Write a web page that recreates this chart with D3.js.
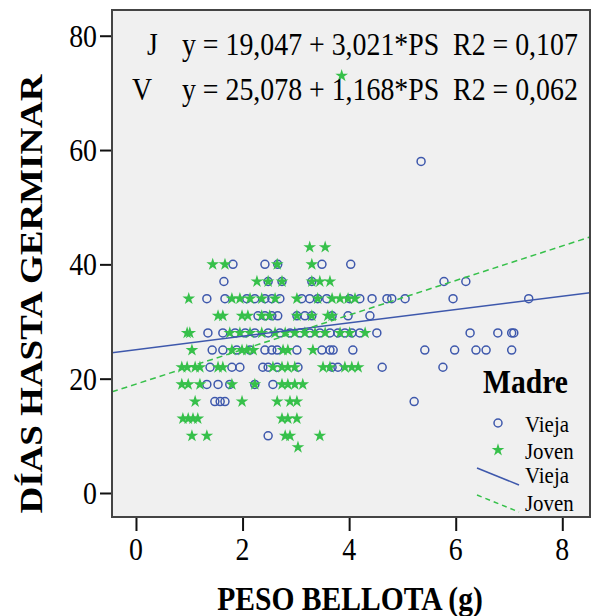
<!DOCTYPE html>
<html>
<head>
<meta charset="utf-8">
<script src="https://cdn.jsdelivr.net/npm/d3@7"></script>
<style>
  body { margin: 0; background: #fff; }
  svg text { font-family: "Liberation Serif", "DejaVu Serif", serif; fill: #000; }
</style>
</head>
<body>
<svg id="chart" width="595" height="616"></svg>
<script>
// axis ticks
var pesoTicks = [0, 2, 4, 6, 8];
var diasTicks = [0, 20, 40, 60, 80];

// groups (Madre) and their fit lines
var groups = ["Vieja", "Joven"];
var groupCodes = ["V", "J"];
var intercepts = [25.078, 19.047];
var slopes = [1.168, 3.021];
var r2 = [0.062, 0.107];

// Madre vieja: [peso bellota (g), dias hasta germinar]
var vieja = [
  [5.35, 58],
  [1.82, 40], [2.42, 40], [2.66, 40], [3.49, 40], [4.03, 40],
  [1.65, 37], [2.48, 37], [2.74, 37], [3.30, 37], [5.78, 37], [6.19, 37],
  [1.33, 34], [1.67, 34], [2.08, 34], [2.23, 34], [2.42, 34], [2.55, 34], [2.70, 34],
  [3.11, 34], [3.26, 34], [3.41, 34], [3.58, 34], [4.01, 34], [4.20, 34], [4.43, 34],
  [4.71, 34], [4.80, 34], [5.05, 34], [5.95, 34], [7.37, 34],
  [2.29, 31], [2.42, 31], [2.55, 31], [2.66, 31], [3.02, 31], [3.17, 31], [3.30, 31],
  [3.68, 31], [3.98, 31], [4.39, 31],
  [1.35, 28], [1.63, 28], [1.86, 28], [2.05, 28], [2.23, 28], [2.48, 28], [2.70, 28],
  [2.89, 28], [3.08, 28], [3.26, 28], [3.45, 28], [3.64, 28], [3.79, 28], [3.92, 28],
  [4.05, 28], [4.20, 28], [4.52, 28], [6.27, 28], [6.79, 28], [7.05, 28], [7.09, 28],
  [1.43, 25], [1.63, 25], [1.89, 25], [2.14, 25], [2.42, 25], [2.55, 25], [2.65, 25],
  [3.02, 25], [3.49, 25], [3.64, 25], [3.70, 25], [4.07, 25], [5.42, 25], [5.98, 25],
  [6.38, 25], [6.57, 25], [7.05, 25],
  [1.39, 22], [1.80, 22], [1.95, 22], [2.38, 22], [2.48, 22], [2.65, 22], [3.04, 22],
  [3.68, 22], [3.79, 22], [4.62, 22], [5.76, 22],
  [1.33, 19], [1.54, 19], [1.76, 19], [2.23, 19], [2.57, 19],
  [1.48, 16], [1.58, 16], [1.67, 16], [5.22, 16],
  [2.48, 10]
];

// Madre joven
var joven = [
  [3.86, 73],
  [3.26, 43], [3.55, 43],
  [1.44, 40], [1.67, 40], [2.65, 40], [3.30, 40],
  [2.27, 37], [2.48, 37], [2.74, 37], [3.30, 37], [3.45, 37], [3.64, 37],
  [0.99, 34], [1.80, 34], [1.95, 34], [2.14, 34], [2.36, 34], [2.61, 34], [3.02, 34],
  [3.41, 34], [3.68, 34], [3.83, 34], [3.98, 34], [4.11, 34],
  [1.54, 31], [1.63, 31], [1.99, 31], [2.10, 31], [2.36, 31], [2.51, 31], [3.02, 31],
  [3.30, 31], [3.60, 31], [3.68, 31],
  [0.96, 28], [1.01, 28], [1.76, 28], [1.95, 28], [2.14, 28], [2.36, 28], [2.61, 28],
  [2.80, 28], [2.98, 28], [3.17, 28], [3.36, 28], [3.55, 28], [3.83, 28], [4.01, 28],
  [4.30, 28],
  [1.05, 25], [1.80, 25], [1.99, 25], [2.08, 25], [2.20, 25], [2.76, 25], [2.85, 25],
  [3.32, 25],
  [0.86, 22], [0.96, 22], [1.11, 22], [1.20, 22], [1.54, 22], [1.63, 22], [2.57, 22],
  [2.74, 22], [2.85, 22], [2.98, 22], [3.51, 22], [3.64, 22], [3.92, 22], [4.05, 22],
  [4.17, 22],
  [0.86, 19], [0.98, 19], [1.20, 19], [1.80, 19], [2.23, 19], [2.74, 19], [2.85, 19],
  [2.98, 19], [3.13, 19],
  [1.11, 16], [1.99, 16], [2.65, 16], [2.89, 16], [3.02, 16],
  [0.88, 13], [0.98, 13], [1.07, 13], [1.16, 13], [2.74, 13], [2.85, 13], [3.02, 13],
  [1.05, 10], [1.33, 10], [2.80, 10], [2.89, 10], [3.45, 10],
  [3.04, 8]
];

var blue = "#3e58ac", green = "#36c04a";
var squish = 0.87; // text in the picture is horizontally narrow

var svg = d3.select("#chart");
var plotLeft = 112, plotRight = 590, plotTop = 10, plotBottom = 517;

var x = d3.scaleLinear().domain([-0.45, 8.52]).range([plotLeft, plotRight]);
var y = d3.scaleLinear().domain([-4.2, 84.5]).range([plotBottom, plotTop]);

function label(px, py, txt, size, anchor, bold, rot) {
  var g = svg.append("g")
    .attr("transform", "translate(" + px + "," + py + ") scale(" + squish + ",1)" + (rot ? " rotate(" + rot + ")" : ""));
  return g.append("text")
    .attr("text-anchor", anchor || "start")
    .style("font-size", size + "px")
    .style("font-weight", bold ? "bold" : "normal")
    .text(txt);
}

// panel
svg.append("rect")
  .attr("x", plotLeft).attr("y", plotTop)
  .attr("width", plotRight - plotLeft).attr("height", plotBottom - plotTop)
  .attr("fill", "#f0f0f0");

svg.append("defs").append("clipPath").attr("id", "clip")
  .append("rect").attr("x", plotLeft).attr("y", plotTop)
  .attr("width", plotRight - plotLeft).attr("height", plotBottom - plotTop);

// axes
svg.append("g")
  .attr("transform", "translate(0," + plotBottom + ")")
  .call(d3.axisBottom(x).tickValues(pesoTicks).tickSize(14).tickFormat(""));
svg.append("g")
  .attr("transform", "translate(" + plotLeft + ",0)")
  .call(d3.axisLeft(y).tickValues(diasTicks).tickSize(12).tickFormat(""));
svg.selectAll(".domain").remove();
svg.selectAll(".tick line").attr("stroke", "#111").attr("stroke-width", 2);

pesoTicks.forEach(function (t) { label(x(t), 560, t, 32, "middle"); });
diasTicks.forEach(function (t) { label(97, y(t) + 11, t, 32, "end"); });

// points
var plot = svg.append("g").attr("clip-path", "url(#clip)");

plot.append("g").selectAll("circle")
  .data(vieja)
  .enter()
  .append("circle")
  .attr("cx", function (d) { return x(d[0]); })
  .attr("cy", function (d) { return y(d[1]); })
  .attr("r", 4)
  .attr("fill", "none")
  .attr("stroke", blue)
  .attr("stroke-width", 1.5);

var star = d3.symbol().type(d3.symbolStar).size(50);
plot.append("g").selectAll("path")
  .data(joven)
  .enter()
  .append("path")
  .attr("d", star)
  .attr("transform", function (d) { return "translate(" + x(d[0]) + "," + y(d[1]) + ")"; })
  .attr("fill", green);

// fit lines
var xs = x.domain();
groups.forEach(function (g, i) {
  plot.append("line")
    .attr("x1", x(xs[0])).attr("y1", y(intercepts[i] + slopes[i] * xs[0]))
    .attr("x2", x(xs[1])).attr("y2", y(intercepts[i] + slopes[i] * xs[1]))
    .attr("stroke", i === 0 ? blue : green)
    .attr("stroke-width", 1.5)
    .attr("stroke-dasharray", i === 0 ? null : "6,4");
});

// frame
svg.append("rect")
  .attr("x", plotLeft).attr("y", plotTop)
  .attr("width", plotRight - plotLeft).attr("height", plotBottom - plotTop)
  .attr("fill", "none").attr("stroke", "#444").attr("stroke-width", 2);

// equations
function num(v) { return v.toFixed(3).replace(".", ","); }
var eqRows = [[1, 147, 55], [0, 132, 100]];
eqRows.forEach(function (r) {
  var i = r[0];
  label(r[1], r[2], groupCodes[i], 32, "start");
  label(182, r[2], "y = " + num(intercepts[i]) + " + " + num(slopes[i]) + "*PS  R2 = " + num(r2[i]), 32, "start")
    .attr("xml:space", "preserve");
});

// legend
label(483, 393, "Madre", 34, "start", true);
var legY = [423, 450];
svg.append("circle").attr("cx", 498).attr("cy", legY[0]).attr("r", 4)
  .attr("fill", "none").attr("stroke", blue).attr("stroke-width", 1.5);
svg.append("path").attr("d", star).attr("transform", "translate(498," + legY[1] + ")").attr("fill", green);
label(525, legY[0] + 9, groups[0], 24, "start");
label(525, legY[1] + 9, groups[1], 24, "start");
svg.append("line").attr("x1", 477).attr("y1", 468).attr("x2", 519).attr("y2", 485)
  .attr("stroke", blue).attr("stroke-width", 1.5);
svg.append("line").attr("x1", 477).attr("y1", 495).attr("x2", 519).attr("y2", 512)
  .attr("stroke", green).attr("stroke-width", 1.5).attr("stroke-dasharray", "5,4");
label(525, 483, groups[0], 24, "start");
label(525, 511, groups[1], 24, "start");

// axis titles
label(350, 610, "PESO BELLOTA (g)", 34, "middle", true);
label(42, 294, "DÍAS HASTA GERMINAR", 37, "middle", true, -90);
</script>
</body>
</html>
